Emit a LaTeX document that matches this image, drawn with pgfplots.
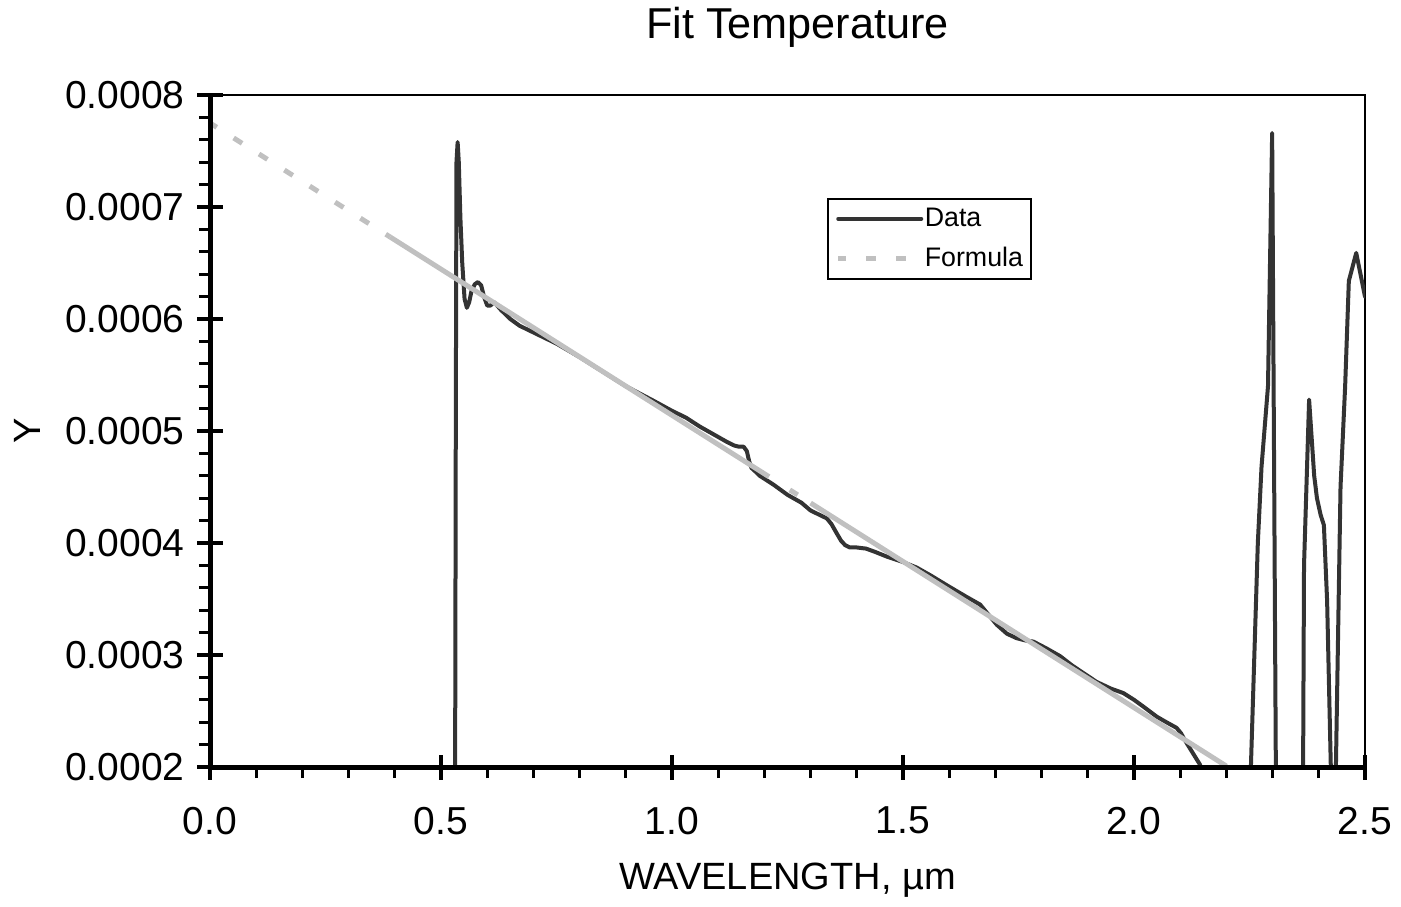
\documentclass[border=0pt]{standalone}
\usepackage{fontspec}
\setmainfont{Liberation Sans}
\usepackage{pgfplots}
\pgfplotsset{compat=1.18}

\definecolor{dataline}{HTML}{333333}
\definecolor{fitline}{HTML}{C0C0C0}

\begin{document}
\begin{tikzpicture}
\begin{axis}[
  name=ax,
  scale only axis,
  width=577.5pt, height=336pt,
  xmin=0, xmax=2.5,
  ymin=0.0002, ymax=0.0008,
  xtick={0,0.5,1,1.5,2,2.5},
  ytick={0.0002,0.0003,0.0004,0.0005,0.0006,0.0007,0.0008},
  minor x tick num=4,
  minor y tick num=4,
  scaled ticks=false,
  tick pos=left,
  tick align=center,
  major tick length=12.5pt,
  minor tick length=5.5pt,
  tick style={line width=1.6pt, black},
  minor x tick style={yshift=-2.75pt},
  minor y tick style={xshift=-2.75pt},
  axis line style={line width=1pt},
  ticklabel style={font=\fontsize{19.5}{23}\selectfont, inner sep=0pt},
  xticklabel style={/pgf/number format/.cd, assume math mode=true, fixed, fixed zerofill, precision=1},
  yticklabel style={/pgf/number format/.cd, assume math mode=true, fixed, fixed zerofill, precision=4},
  xticklabel shift=13.5pt,
  yticklabel shift=6.25pt,
  label style={font=\fontsize{19}{23}\selectfont, inner sep=0pt},
  xlabel={WAVELENGTH, µm},
  xlabel style={at={(0.5,-0.1830)}, anchor=base},
  ylabel={Y},
  ylabel style={at={(-0.1584,0.5)}, anchor=center},
  title={Fit Temperature},
  title style={at={(0.50866,1.06696)}, anchor=base, font=\fontsize{21.6}{26}\selectfont, inner sep=0pt},
  legend image code/.code={\draw[#1] (0pt,0pt) -- (41.5pt,0pt);},
  legend cell align=left,
  legend style={at={(0.5342,0.8467)}, anchor=north west, draw=black, line width=0.75pt,
    inner xsep=4pt, inner ysep=0pt, row sep=0pt, column sep=0.5pt,
    font=\fontsize{13.4}{16}\selectfont,
    nodes={inner sep=0pt, minimum height=20pt}},
]
% measured data
\addplot[dataline, line width=2pt, line join=round, line cap=round] coordinates {
  (0.5305,0.00018) (0.5320,0.00050) (0.5335,0.00074) (0.5360,0.000758) (0.5385,0.00074)
  (0.5420,0.00069) (0.5460,0.00065) (0.5510,0.000618) (0.5560,0.00061) (0.5610,0.000615)
  (0.5660,0.000625) (0.5730,0.000631) (0.5800,0.000633) (0.5870,0.000630) (0.5930,0.000620)
  (0.6000,0.000612) (0.6070,0.000612) (0.6150,0.000615) (0.6300,0.000608) (0.6500,0.000600)
  (0.6700,0.000594) (0.6900,0.000590) (0.7200,0.000584) (0.7500,0.000578) (0.8000,0.000566)
  (0.9000,0.000540) (0.9600,0.000527) (1.0000,0.000518) (1.0300,0.000512) (1.0600,0.000504)
  (1.0900,0.000497) (1.1200,0.000490) (1.1350,0.000487) (1.1450,0.000486) (1.1550,0.000486)
  (1.1620,0.000482) (1.1670,0.000473) (1.1720,0.000467) (1.1800,0.000464) (1.1900,0.000460)
  (1.2050,0.000456) (1.2200,0.000452) (1.2500,0.000443) (1.2800,0.000436) (1.3000,0.000429)
  (1.3200,0.000425) (1.3350,0.000422) (1.3450,0.000417) (1.3560,0.000409) (1.3660,0.000402)
  (1.3750,0.000398) (1.3850,0.000396) (1.4000,0.000396) (1.4200,0.000395) (1.4400,0.000392)
  (1.4640,0.000388) (1.5000,0.000383) (1.5300,0.000378) (1.5600,0.000371) (1.6000,0.000361)
  (1.6370,0.000352) (1.6670,0.000345) (1.6850,0.000336) (1.7030,0.000327) (1.7250,0.000319)
  (1.7460,0.000315) (1.7650,0.000313) (1.7820,0.000312) (1.8100,0.000306) (1.8400,0.000299)
  (1.8650,0.000291) (1.8900,0.000284) (1.9190,0.000276) (1.9500,0.000270) (1.9770,0.000266)
  (2.0000,0.000260) (2.0200,0.000254) (2.0490,0.000245) (2.0700,0.000240) (2.0920,0.000235)
  (2.1020,0.000230) (2.1100,0.000224) (2.1250,0.000214) (2.1430,0.000202) (2.1550,0.00018)
  (2.1600,0.00015) (2.2450,0.00015) (2.2490,0.00017) (2.2530,0.00020) (2.2680,0.00040)
  (2.2760,0.000468) (2.2900,0.00054) (2.2990,0.000766) (2.3070,0.00020) (2.3090,0.00015)
  (2.3640,0.00015) (2.3660,0.00020) (2.3680,0.00038) (2.3790,0.000528) (2.3900,0.00046)
  (2.3960,0.00044) (2.4040,0.000425) (2.4110,0.000416) (2.4180,0.000348) (2.4260,0.00020)
  (2.4280,0.00015) (2.4350,0.00015) (2.4370,0.00020) (2.4470,0.00045) (2.4570,0.00054)
  (2.4650,0.000634) (2.4810,0.000659) (2.4980,0.000624) (2.5000,0.00062)
};
\addlegendentry{Data}
% fitted formula
\addplot[fitline, line width=2.5pt, dash pattern=on 5pt off 10pt, dash phase=1pt] coordinates {
  (0,0.000775) (0.39,0.0006732)
};
\addlegendentry{Formula}
\addplot[fitline, line width=2.5pt, forget plot] coordinates {
  (0.39,0.0006732) (1.21,0.0004592)
};
\addplot[fitline, line width=2.5pt, forget plot] coordinates {
  (1.255,0.0004474) (1.272,0.0004430)
};
\addplot[fitline, line width=2.5pt, forget plot] coordinates {
  (1.30,0.0004357) (2.20,0.0002008)
};
\end{axis}
\draw[line width=2.5pt] (ax.north west) -- (ax.south west) -- (ax.south east);
\path ([shift={(-105pt,-69.5pt)}]ax.south west) rectangle ([shift={(18pt,47.5pt)}]ax.north east);
\end{tikzpicture}
\end{document}
